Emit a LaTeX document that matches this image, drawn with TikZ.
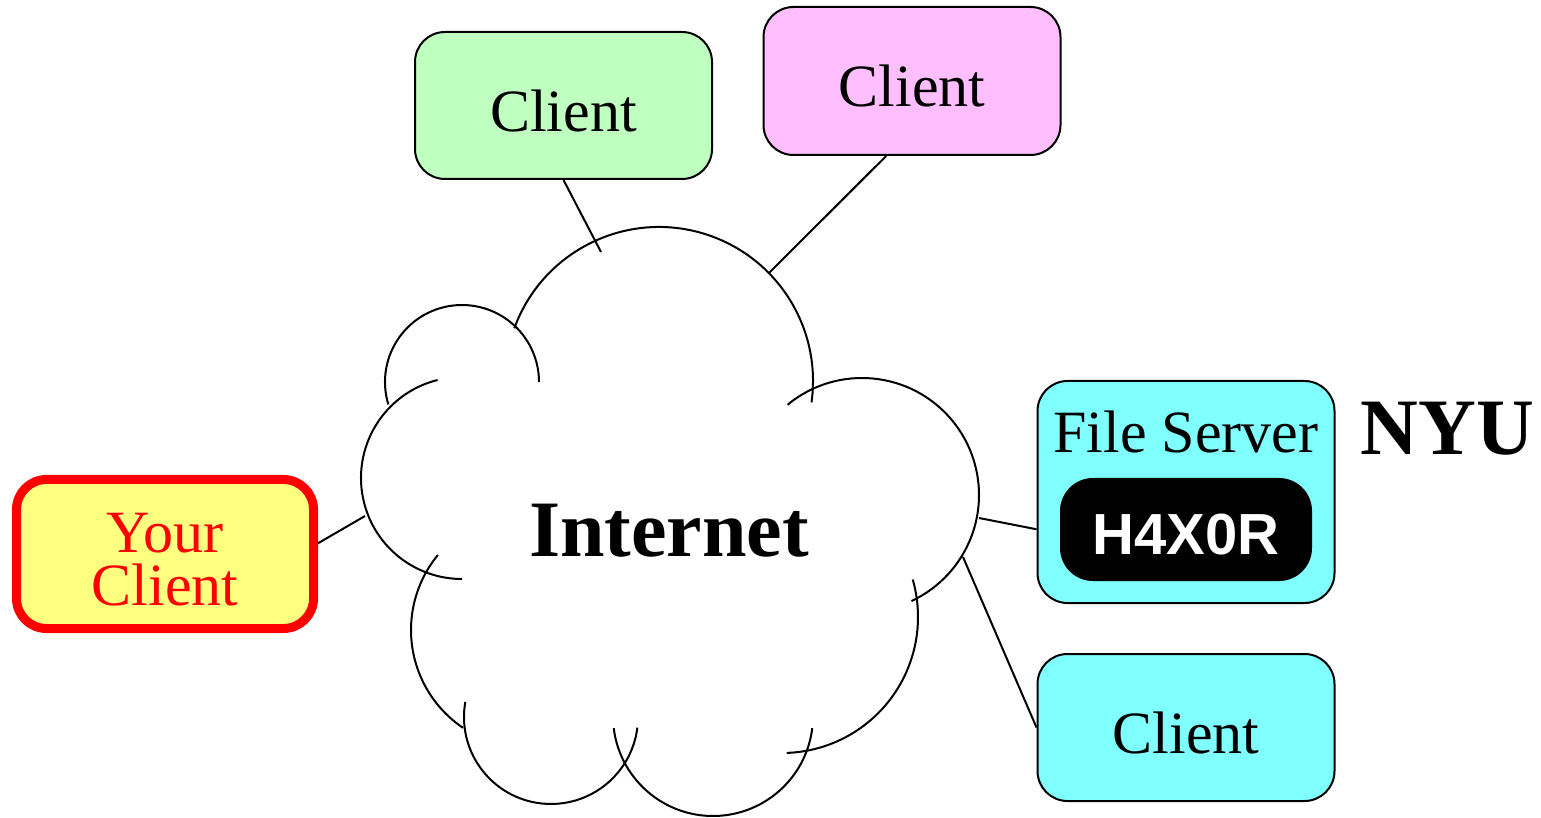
\documentclass[tikz,border=0pt]{standalone}
\usepackage{fontspec}
\setmainfont{Liberation Serif}
\newfontfamily\tagfont{Liberation Sans}

\definecolor{mintfill}{RGB}{191,255,191}
\definecolor{pinkfill}{RGB}{255,191,255}
\definecolor{cyanfill}{RGB}{128,255,255}
\definecolor{lemonfill}{RGB}{255,255,128}

% one arc of the cloud outline: centre x, centre y, radius, start angle, end angle
\newcommand{\cloudarc}[5]{\draw[cloudline] (#1,#2) ++(#4:#3) arc[start angle=#4, end angle=#5, radius=#3];}

\begin{document}
\begin{tikzpicture}[x=1pt, y=1pt,
  cloudline/.style={line width=2pt, black},
  wire/.style={line width=2pt, black},
  hostbox/.style={draw=black, line width=2pt, rounded corners=30pt,
    minimum width=297pt, minimum height=147pt, inner sep=0pt,
    font=\fontsize{60}{72}\selectfont, text height=52pt, text depth=0pt},
  bigword/.style={font=\fontsize{80}{92}\selectfont\bfseries, anchor=base, inner sep=0pt}
]
\useasboundingbox (0,0) rectangle (1541,817);

% cloud outline
\cloudarc{659}{436}{154}{160}{-8}
\cloudarc{462}{435}{77}{197}{0}
\cloudarc{462}{339}{101}{104}{270}
\cloudarc{529}{187}{118}{140.5}{236}
\cloudarc{551}{100}{87}{170}{353}
\cloudarc{713}{101}{100}{187}{353}
\cloudarc{782}{200}{136}{16}{-88}
\cloudarc{862}{322}{117}{129.5}{-65}

\node[bigword] (net) at (669,260) {Internet};

% where the links meet the cloud
\coordinate (cg) at (601,565);
\coordinate (cp) at (769,544);
\coordinate (cy) at (365,301);
\coordinate (cf) at (979,299);
\coordinate (cb) at (963,260);

% hosts
\node[hostbox, fill=mintfill] (green) at (563.5,711.5) {Client};
\node[hostbox, fill=pinkfill, minimum height=148pt] (pink) at (912,736) {Client};
\node[hostbox, fill=cyanfill] (bc) at (1186,89.5) {Client};

\node[hostbox, fill=cyanfill, minimum height=222pt, text height=0pt, text depth=78pt] (fs) at (1186,325) {File Server};
\node[fill=black, rounded corners=33pt, minimum width=252pt, minimum height=103pt, inner sep=0pt,
  text=white, font=\fontsize{58}{70}\selectfont\tagfont\bfseries, text height=51pt, text depth=0pt] (hx) at (1186,287.5) {H4X0R};

\node[draw=red, fill=lemonfill, line width=9pt, rounded corners=30pt,
  minimum width=297pt, minimum height=149pt, inner sep=0pt, align=center,
  text=red, font=\fontsize{60}{53}\selectfont] (you) at (165,263) {\rule{0pt}{50pt}Your\\Client};

\node[bigword] (nyu) at (1447.5,362) {NYU};

% links
\draw[wire] (green.south) -- (cg);
\draw[wire] (pink.251) -- (cp);
\draw[wire] (you.4) -- (cy);
\draw[wire] (fs.194) -- (cf);
\draw[wire] (bc.west) -- (cb);
\end{tikzpicture}
\end{document}
